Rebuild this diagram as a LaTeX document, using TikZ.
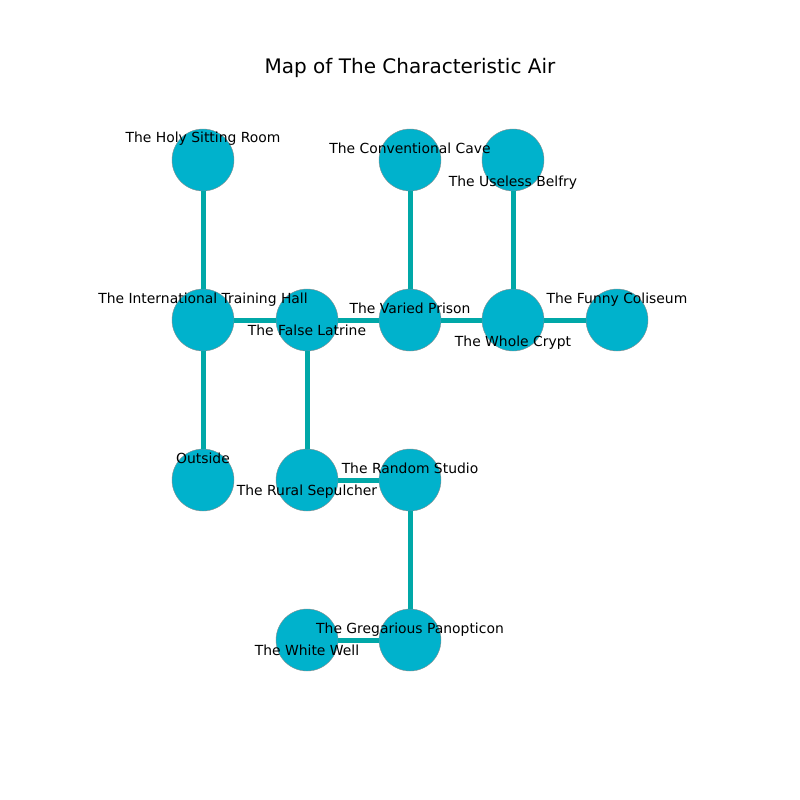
\documentclass[tikz,border=0pt]{standalone}
\usepackage{fontspec}
\setmainfont{DejaVu Sans}
\definecolor{nodefill}{RGB}{0,178,204}
\definecolor{edgecol}{RGB}{0,168,168}
\begin{document}
\begin{tikzpicture}[x=1pt,y=-1pt,
  place/.style={circle,fill=nodefill,draw=black!45,line width=0.4pt,minimum size=62pt,inner sep=0pt},
  lbl/.style={font=\fontsize{13.9pt}{16pt}\selectfont,inner sep=0pt,anchor=base},
  link/.style={draw=edgecol,line width=5pt}]
\useasboundingbox (0,0) rectangle (800,800);
\node[font=\fontsize{20pt}{24pt}\selectfont,inner sep=0pt,anchor=base] (title) at (410,74) {Map of The Characteristic Air};
% nodes
\node[place] (holy) at (203,160) {};
\node[place] (cave) at (410,160) {};
\node[place] (belfry) at (513,160) {};
\node[place] (ith) at (203,320) {};
\node[place] (latrine) at (307,320) {};
\node[place] (prison) at (410,320) {};
\node[place] (crypt) at (513,320) {};
\node[place] (coliseum) at (617,320) {};
\node[place] (outside) at (203,480) {};
\node[place] (sepulcher) at (307,480) {};
\node[place] (studio) at (410,480) {};
\node[place] (well) at (307,640) {};
\node[place] (panop) at (410,640) {};
% edges
\path[link] (holy) -- (ith);
\path[link] (ith) -- (latrine);
\path[link] (ith) -- (outside);
\path[link] (latrine) -- (prison);
\path[link] (latrine) -- (sepulcher);
\path[link] (prison) -- (cave);
\path[link] (prison) -- (crypt);
\path[link] (crypt) -- (belfry);
\path[link] (crypt) -- (coliseum);
\path[link] (sepulcher) -- (studio);
\path[link] (studio) -- (panop);
\path[link] (panop) -- (well);
% labels
\node[lbl] (lholy) at (203,142) {The Holy Sitting Room};
\node[lbl] (lcave) at (410,153) {The Conventional Cave};
\node[lbl] (lbelfry) at (513,186) {The Useless Belfry};
\node[lbl] (lith) at (203,303) {The International Training Hall};
\node[lbl] (llatrine) at (307,335) {The False Latrine};
\node[lbl] (lprison) at (410,313) {The Varied Prison};
\node[lbl] (lcrypt) at (513,346) {The Whole Crypt};
\node[lbl] (lcoliseum) at (617,303) {The Funny Coliseum};
\node[lbl] (loutside) at (203,463) {Outside};
\node[lbl] (lsepulcher) at (307,495) {The Rural Sepulcher};
\node[lbl] (lstudio) at (410,473) {The Random Studio};
\node[lbl] (lpanop) at (410,633) {The Gregarious Panopticon};
\node[lbl] (lwell) at (307,655) {The White Well};
\end{tikzpicture}
\end{document}
